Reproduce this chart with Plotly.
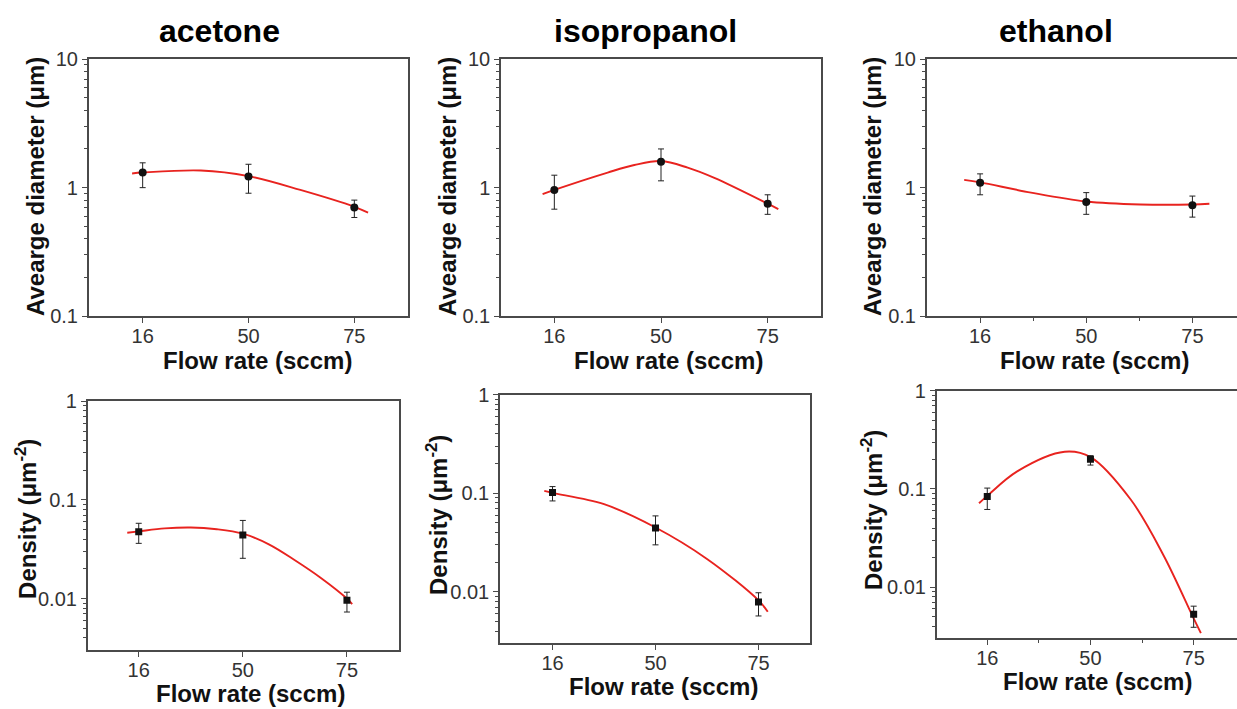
import plotly.graph_objects as go

# ---------------- data ----------------
solvents = ["acetone", "isopropanol", "ethanol"]
flow_labels = ["16", "50", "75"]
flow_pos = [1, 2, 3]

# Average diameter (um): value, upper, lower
diam_acetone = [1.31, 1.22, 0.70]
diam_acetone_hi = [1.56, 1.52, 0.80]
diam_acetone_lo = [1.00, 0.905, 0.586]
diam_iso = [0.96, 1.59, 0.75]
diam_iso_hi = [1.25, 2.00, 0.88]
diam_iso_lo = [0.68, 1.13, 0.62]
diam_eth = [1.09, 0.775, 0.73]
diam_eth_hi = [1.28, 0.915, 0.86]
diam_eth_lo = [0.88, 0.62, 0.59]

# Density (um^-2)
dens_acetone = [0.0475, 0.044, 0.0096]
dens_acetone_hi = [0.058, 0.062, 0.0116]
dens_acetone_lo = [0.0363, 0.0256, 0.0073]
dens_iso = [0.1016, 0.0444, 0.0079]
dens_iso_hi = [0.117, 0.059, 0.0098]
dens_iso_lo = [0.0837, 0.030, 0.0057]
dens_eth = [0.0836, 0.201, 0.00528]
dens_eth_hi = [0.102, 0.218, 0.0064]
dens_eth_lo = [0.0618, 0.175, 0.0039]

# fitted red curves
fit_diam_acetone_x = [0.90, 1.0, 1.55, 2.0, 2.49, 3.0, 3.13]
fit_diam_acetone_y = [1.29, 1.31, 1.36, 1.23, 0.96, 0.71, 0.64]
fit_diam_iso_x = [0.89, 1.0, 1.5, 1.75, 2.0, 2.25, 2.5, 3.0, 3.1]
fit_diam_iso_y = [0.89, 0.96, 1.31, 1.50, 1.61, 1.43, 1.19, 0.75, 0.68]
fit_diam_eth_x = [0.85, 1.0, 1.48, 2.0, 2.51, 3.0, 3.16]
fit_diam_eth_y = [1.15, 1.10, 0.915, 0.78, 0.74, 0.74, 0.75]
fit_dens_acetone_x = [0.89, 1.0, 1.25, 1.5, 1.75, 2.0, 2.25, 2.5, 2.75, 3.0, 3.05]
fit_dens_acetone_y = [0.0465, 0.048, 0.0515, 0.0526, 0.0505, 0.0455, 0.0355, 0.0245, 0.0162, 0.0100, 0.0088]
fit_dens_iso_x = [0.92, 1.0, 1.5, 2.0, 2.5, 3.0, 3.09]
fit_dens_iso_y = [0.106, 0.101, 0.0775, 0.045, 0.0216, 0.0082, 0.0063]
fit_dens_eth_x = [0.92, 1.0, 1.29, 1.75, 2.0, 2.39, 2.71, 3.0, 3.07]
fit_dens_eth_y = [0.0716, 0.085, 0.151, 0.239, 0.211, 0.078, 0.0209, 0.0048, 0.0034]

# ---------------- layout geometry ----------------
W, H = 1237, 709
FONT = "Liberation Sans, Arial, sans-serif"
AXC = "#4a4a4a"
TICK_SIZE = 20
AXTITLE_SIZE = 24
TITLE_SIZE = 32


def Y(py):
    # vertical pixel position -> figure pixel (compensates the capture's vertical scaling)
    return (py - 8.9) / 0.975


panels = [
    (diam_acetone, diam_acetone_hi, diam_acetone_lo, fit_diam_acetone_x, fit_diam_acetone_y, "circle",
     (88.7, 408.3), (57.3, 316), [0.49, 3.51], [-1, 1], False),
    (diam_iso, diam_iso_hi, diam_iso_lo, fit_diam_iso_x, fit_diam_iso_y, "circle",
     (501, 821), (57.3, 316), [0.5, 3.5], [-1, 1], False),
    (diam_eth, diam_eth_hi, diam_eth_lo, fit_diam_eth_x, fit_diam_eth_y, "circle",
     (926.7, 1237), (57.3, 316), [0.497, 3.42], [-1, 1], True),
    (dens_acetone, dens_acetone_hi, dens_acetone_lo, fit_dens_acetone_x, fit_dens_acetone_y, "square",
     (87.7, 399), (401.7, 651.7), [0.51, 3.5], [-2.52, 0], False),
    (dens_iso, dens_iso_hi, dens_iso_lo, fit_dens_iso_x, fit_dens_iso_y, "square",
     (500, 810), (395, 645), [0.49, 3.5], [-2.52, 0], False),
    (dens_eth, dens_eth_hi, dens_eth_lo, fit_dens_eth_x, fit_dens_eth_y, "square",
     (936.7, 1237), (391, 640), [0.51, 3.42], [-2.52, 0], True),
]

fig = go.Figure()
layout = {}
for i, (y, hi, lo, fx, fy, sym, xd, yd, xr, yr, minx) in enumerate(panels):
    n = i + 1
    xa = "x" if n == 1 else f"x{n}"
    ya = "y" if n == 1 else f"y{n}"
    fig.add_trace(go.Scatter(x=fx, y=fy, mode="lines", line=dict(color="#e8231f", width=1.9, shape="spline"),
                             xaxis=xa, yaxis=ya, showlegend=False, hoverinfo="skip"))
    fig.add_trace(go.Scatter(
        x=flow_pos, y=y, mode="markers",
        marker=dict(symbol=sym, size=8 if sym == "circle" else 7, color="#111111"),
        error_y=dict(type="data", symmetric=False,
                     array=[h - v for h, v in zip(hi, y)],
                     arrayminus=[v - l for l, v in zip(lo, y)],
                     color="#222222", thickness=1, width=3),
        xaxis=xa, yaxis=ya, showlegend=False))
    top = i < 3
    if top:
        tv = [0.1, 1, 10]
        tt = ["0.1", "1", "10"]
        mv = [m * d for d in (0.1, 1) for m in range(2, 10)]
    else:
        tv = [0.01, 0.1, 1]
        tt = ["0.01", "0.1", "1"]
        mv = [m * d for d in (0.001, 0.01, 0.1) for m in range(2, 10)]
        mv = [v for v in mv if v >= 10 ** yr[0]]
    xkey = "xaxis" if n == 1 else f"xaxis{n}"
    ykey = "yaxis" if n == 1 else f"yaxis{n}"
    right_edge = xd[1] >= W
    xdict = dict(domain=[xd[0] / W, min(xd[1] / W, 1.0)], anchor=ya, range=xr,
                 tickvals=flow_pos, ticktext=flow_labels, ticks="outside", ticklen=5,
                 tickcolor=AXC, tickwidth=1.2, showline=True, linecolor=AXC, linewidth=1.5,
                 mirror=True, showgrid=False, zeroline=False, ticklabelstandoff=-4,
                 tickfont=dict(family=FONT, size=TICK_SIZE, color="#333333"))
    if minx:
        xdict["minor"] = dict(tickvals=[1.5, 2.5], ticks="outside", ticklen=3, tickcolor=AXC)
    ydict = dict(domain=[1 - Y(yd[1]) / H, 1 - Y(yd[0]) / H], anchor=xa, type="log", range=yr,
                 tickvals=tv, ticktext=tt, ticks="outside", ticklen=5, tickcolor=AXC, tickwidth=1.2,
                 showline=True, linecolor=AXC, linewidth=1.5,
                 mirror=(not right_edge), showgrid=False, zeroline=False,
                 tickfont=dict(family=FONT, size=TICK_SIZE, color="#333333"),
                 minor=dict(tickvals=mv, ticks="outside", ticklen=3, tickcolor=AXC, showgrid=False))
    layout[xkey] = xdict
    layout[ykey] = ydict

annotations = []
# column titles
for name, cx in zip(solvents, [219, 645, 1056]):
    annotations.append(dict(text=f"<b>{name}</b>", x=cx / W, y=1 - Y(29) / H, xref="paper", yref="paper",
                            showarrow=False, font=dict(family=FONT, size=TITLE_SIZE, color="#000000"),
                            xanchor="center", yanchor="middle"))
# x axis titles
for cx, cy in [(257, 361), (668, 361), (1094, 361), (251, 696), (663, 689), (1097, 684)]:
    annotations.append(dict(text="<b>Flow rate (sccm)</b>", x=cx / W, y=1 - Y(cy) / H, xref="paper",
                            yref="paper", showarrow=False,
                            font=dict(family=FONT, size=AXTITLE_SIZE, color="#111111"),
                            xanchor="center", yanchor="middle"))
# y axis titles
for cx, cy in [(35, 186), (447, 186), (872, 186)]:
    annotations.append(dict(text="<b>Avearge diameter (μm)</b>", x=cx / W, y=1 - Y(cy) / H, xref="paper",
                            yref="paper", showarrow=False, textangle=-90,
                            font=dict(family=FONT, size=AXTITLE_SIZE, color="#111111"),
                            xanchor="center", yanchor="middle"))
for cx, cy in [(26, 520), (437, 516), (872, 511)]:
    annotations.append(dict(text="<b>Density (μm<sup>-2</sup>)</b>", x=cx / W, y=1 - Y(cy) / H, xref="paper",
                            yref="paper", showarrow=False, textangle=-90,
                            font=dict(family=FONT, size=AXTITLE_SIZE, color="#111111"),
                            xanchor="center", yanchor="middle"))

fig.update_layout(width=W, height=H, margin=dict(l=0, r=0, t=0, b=0),
                  paper_bgcolor="white", plot_bgcolor="white", annotations=annotations, **layout)
fig.write_html("out.html")
